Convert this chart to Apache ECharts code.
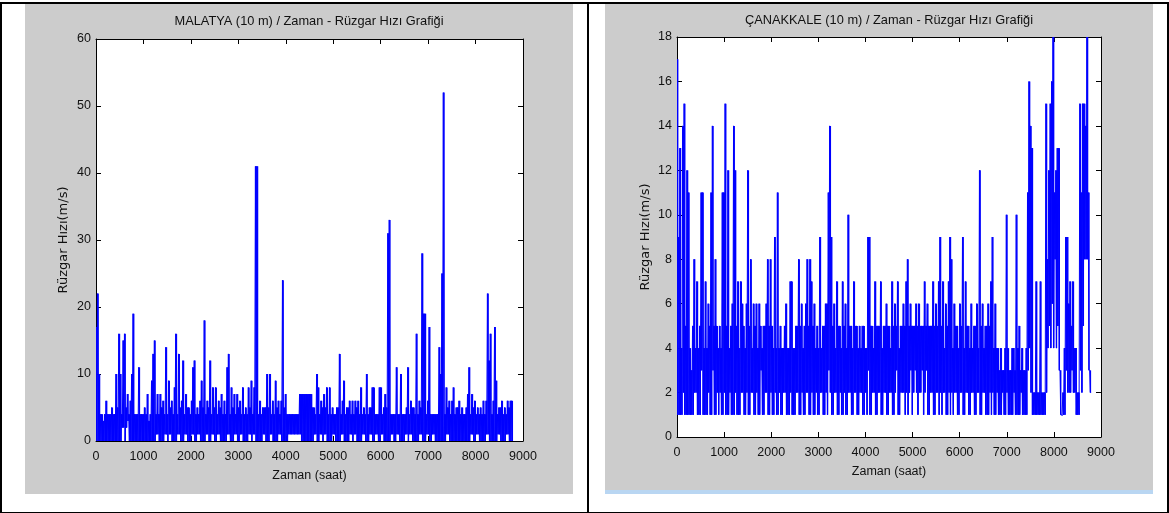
<!DOCTYPE html>
<html>
<head>
<meta charset="utf-8">
<script src="https://cdn.jsdelivr.net/npm/echarts@6/dist/echarts.min.js"></script>
<style>
  html, body { margin: 0; padding: 0; background: #fff; }
  #page { position: relative; width: 1169px; height: 513px; overflow: hidden; background: #fff; }
  .bx { position: absolute; }
  #chart { position: absolute; left: 0; top: 0; width: 1169px; height: 513px; }
</style>
</head>
<body>
<div id="page">
  <div class="bx" style="left:25px;top:4px;width:548px;height:490px;background:#cccccc;"></div>
  <div class="bx" style="left:605px;top:4px;width:548px;height:486px;background:#cccccc;"></div>
  <div class="bx" style="left:605px;top:490px;width:548px;height:4px;background:#b9d6f2;"></div>
  <div class="bx" style="left:0px;top:2px;width:1165px;height:508px;border:2px solid #000;"></div>
  <div class="bx" style="left:587px;top:2px;width:2px;height:510px;background:#000;"></div>
  <div id="chart"></div>
</div>
<script>
// Wind speed, in windows of WINDOW_HOURS hours:
// for every window the highest and the lowest reading (the trace swings between them).
const WINDOW_HOURS = 30;
const xTickValues = [0, 1000, 2000, 3000, 4000, 5000, 6000, 7000, 8000, 9000];

const malatyaTitle = 'MALATYA (10 m) / Zaman - Rüzgar Hızı Grafiği';
const canakkaleTitle = 'ÇANAKKALE (10 m) / Zaman - Rüzgar Hızı Grafiği';
const xAxisTitle = 'Zaman (saat)';
const yAxisTitle = 'Rüzgar Hızı(m/s)';

const malatyaHigh = [
  17, 22, 10, 4, 4, 3, 4, 6, 4, 4,
  4, 5, 4, 4, 10, 5, 16, 10, 4, 15,
  16, 5, 7, 4, 6, 10, 19, 4, 4, 4,
  11, 4, 4, 4, 5, 4, 7, 3, 4, 9,
  13, 15, 4, 7, 4, 7, 5, 6, 4, 14,
  4, 9, 5, 6, 4, 8, 16, 4, 13, 5,
  6, 12, 4, 7, 5, 5, 4, 6, 11, 12,
  4, 5, 4, 6, 9, 5, 18, 4, 6, 5,
  12, 4, 8, 5, 8, 4, 6, 5, 7, 4,
  6, 4, 11, 13, 4, 8, 5, 7, 4, 7,
  5, 6, 4, 8, 4, 5, 4, 8, 5, 9,
  4, 8, 41, 41, 4, 6, 4, 5, 5, 5,
  10, 5, 10, 4, 6, 4, 9, 5, 6, 4,
  6, 24, 5, 7, 4, 4, 4, 4, 4, 4,
  4, 4, 4, 7, 7, 7, 7, 7, 7, 7,
  7, 7, 5, 5, 4, 10, 8, 4, 6, 5,
  7, 5, 8, 4, 8, 4, 5, 4, 4, 5,
  5, 13, 4, 6, 9, 4, 5, 5, 6, 4,
  6, 4, 6, 5, 6, 4, 8, 4, 5, 4,
  10, 4, 5, 5, 8, 8, 4, 4, 4, 8,
  8, 4, 5, 7, 5, 31, 33, 4, 4, 4,
  4, 11, 4, 4, 10, 4, 4, 4, 5, 11,
  4, 6, 5, 5, 4, 16, 4, 6, 5, 28,
  19, 19, 4, 6, 17, 4, 4, 4, 4, 4,
  4, 14, 10, 25, 52, 4, 8, 5, 6, 4,
  6, 8, 4, 5, 5, 6, 4, 5, 4, 4,
  5, 7, 11, 4, 7, 5, 6, 4, 5, 4,
  5, 4, 6, 4, 6, 22, 12, 16, 4, 6,
  17, 9, 4, 5, 5, 6, 4, 5, 4, 6,
  5, 6, 6
];

const malatyaLow = [
  0, 0, 0, 0, 0, 0, 0, 0, 0, 0,
  0, 0, 0, 0, 0, 0, 0, 0, 2, 2,
  0, 2, 3, 0, 0, 0, 0, 0, 0, 0,
  0, 0, 0, 0, 0, 0, 0, 0, 0, 0,
  0, 0, 1, 1, 0, 0, 0, 0, 1, 1,
  0, 1, 1, 0, 0, 0, 0, 1, 1, 0,
  0, 0, 1, 1, 0, 0, 0, 1, 1, 0,
  0, 1, 1, 0, 0, 0, 0, 1, 1, 0,
  0, 1, 1, 0, 0, 1, 1, 0, 0, 0,
  0, 0, 1, 1, 0, 0, 0, 1, 1, 0,
  0, 1, 1, 0, 0, 0, 0, 1, 1, 0,
  1, 1, 0, 0, 0, 0, 0, 1, 1, 0,
  0, 0, 1, 1, 0, 0, 0, 0, 1, 1,
  0, 0, 0, 0, 0, 1, 1, 1, 1, 1,
  1, 1, 1, 1, 0, 0, 0, 0, 0, 0,
  0, 0, 0, 1, 1, 0, 0, 1, 1, 0,
  1, 1, 0, 0, 0, 0, 1, 1, 0, 0,
  0, 0, 1, 1, 0, 0, 0, 0, 1, 1,
  0, 1, 1, 0, 0, 0, 0, 1, 1, 0,
  0, 0, 1, 1, 0, 0, 1, 1, 0, 0,
  1, 1, 0, 0, 0, 0, 0, 1, 1, 0,
  0, 1, 1, 0, 0, 0, 0, 1, 1, 0,
  1, 1, 0, 0, 0, 0, 0, 1, 1, 0,
  0, 0, 1, 1, 0, 0, 1, 1, 0, 0,
  0, 0, 0, 0, 0, 0, 1, 1, 0, 0,
  0, 0, 0, 0, 0, 0, 0, 0, 0, 0,
  0, 0, 0, 1, 1, 0, 0, 1, 1, 0,
  0, 0, 0, 0, 1, 1, 0, 0, 0, 0,
  0, 0, 1, 1, 0, 0, 0, 0, 1, 1,
  0, 0, 0
];

const canakkaleHigh = [
  17, 9, 13, 4, 14, 15, 5, 12, 11, 4,
  3, 5, 8, 4, 7, 4, 5, 11, 11, 4,
  7, 4, 6, 5, 11, 14, 5, 8, 5, 4,
  5, 4, 11, 11, 15, 5, 12, 4, 5, 6,
  14, 12, 5, 7, 4, 7, 6, 5, 4, 6,
  12, 5, 8, 4, 6, 5, 6, 4, 6, 5,
  4, 5, 5, 6, 8, 5, 8, 5, 4, 9,
  4, 11, 4, 5, 4, 4, 5, 6, 4, 4,
  7, 7, 4, 4, 5, 5, 8, 5, 6, 4,
  5, 6, 8, 5, 8, 7, 5, 6, 4, 5,
  4, 9, 4, 5, 5, 6, 6, 11, 14, 9,
  5, 6, 4, 7, 5, 5, 4, 7, 5, 6,
  4, 10, 5, 5, 4, 7, 5, 5, 4, 5,
  4, 5, 5, 4, 4, 9, 9, 5, 5, 4,
  7, 5, 5, 5, 7, 4, 5, 5, 6, 5,
  5, 4, 7, 5, 6, 5, 7, 4, 5, 5,
  6, 5, 7, 8, 5, 6, 5, 5, 5, 6,
  5, 6, 5, 5, 5, 7, 5, 6, 5, 5,
  5, 7, 5, 6, 5, 7, 9, 5, 7, 4,
  6, 5, 7, 9, 8, 4, 6, 5, 5, 4,
  6, 5, 9, 4, 7, 5, 5, 4, 6, 4,
  5, 5, 6, 4, 12, 5, 6, 4, 5, 5,
  6, 5, 7, 9, 4, 6, 4, 4, 3, 4,
  3, 3, 4, 10, 4, 3, 3, 4, 4, 3,
  10, 4, 5, 3, 4, 3, 3, 4, 11, 16,
  14, 13, 2, 2, 7, 2, 2, 7, 2, 2,
  2, 15, 8, 12, 15, 16, 18, 11, 12, 13,
  13, 3, 1, 2, 4, 9, 9, 6, 7, 5,
  7, 4, 4, 2, 2, 15, 11, 15, 15, 14,
  18, 11, 3
];

const canakkaleLow = [
  1, 1, 1, 1, 2, 1, 1, 1, 1, 1,
  1, 1, 2, 2, 1, 1, 1, 3, 1, 1,
  1, 1, 2, 1, 1, 3, 1, 1, 2, 1,
  2, 1, 1, 2, 1, 1, 1, 2, 1, 1,
  1, 2, 1, 1, 1, 2, 2, 1, 1, 2,
  1, 1, 2, 2, 1, 1, 2, 1, 1, 3,
  1, 1, 2, 2, 1, 1, 2, 1, 1, 2,
  1, 1, 2, 1, 1, 2, 2, 1, 1, 1,
  2, 1, 1, 1, 2, 2, 1, 1, 2, 1,
  1, 2, 2, 1, 1, 2, 1, 1, 2, 1,
  1, 2, 2, 1, 1, 2, 1, 3, 2, 1,
  1, 2, 2, 1, 1, 2, 1, 1, 2, 1,
  1, 2, 2, 1, 1, 2, 2, 1, 1, 2,
  2, 1, 1, 2, 1, 3, 1, 1, 2, 2,
  1, 1, 2, 2, 1, 1, 2, 2, 1, 1,
  2, 2, 1, 1, 2, 3, 1, 1, 2, 2,
  2, 1, 2, 1, 2, 3, 1, 2, 3, 2,
  1, 2, 2, 3, 1, 2, 3, 1, 1, 2,
  2, 1, 1, 2, 2, 1, 2, 1, 2, 2,
  1, 1, 2, 1, 2, 1, 2, 2, 1, 1,
  2, 2, 1, 1, 2, 2, 1, 1, 2, 2,
  1, 1, 2, 2, 1, 1, 2, 2, 1, 1,
  1, 2, 1, 2, 1, 1, 2, 1, 1, 1,
  2, 1, 1, 2, 1, 1, 1, 1, 2, 1,
  1, 1, 1, 2, 1, 1, 1, 1, 3, 4,
  2, 1, 1, 1, 1, 1, 1, 1, 1, 1,
  1, 2, 4, 5, 4, 6, 4, 8, 4, 5,
  3, 1, 1, 1, 1, 3, 2, 2, 2, 3,
  2, 2, 1, 1, 1, 3, 2, 5, 8, 8,
  8, 3, 2
];

const FONT = '"Liberation Sans", Arial, Helvetica, sans-serif';
const NAME_FONT = '"DejaVu Sans", "Liberation Sans", Arial, sans-serif';
const TXT = '#111';
const LINE_BLUE = '#0000ff';

// each item: [window start hour, window high, window low, next window's high]
function toWindows(high, low) {
  return high.map((h, j) => [
    j * WINDOW_HOURS, h, low[j], j + 1 < high.length ? high[j + 1] : low[j]
  ]);
}
// within a window the hourly trace sweeps the whole range low..high, drawn as a
// solid column, and a stroke joins it to the next window
function renderTrace(params, api) {
  const x0 = api.value(0);
  const top = api.coord([x0, api.value(1)]);
  const bottom = api.coord([x0 + WINDOW_HOURS, api.value(2)]);
  const mid = api.coord([x0 + WINDOW_HOURS / 2, api.value(2)]);
  const next = api.coord([x0 + WINDOW_HOURS, api.value(3)]);
  return {
    type: 'group',
    children: [
      {
        type: 'rect',
        shape: { x: top[0], y: top[1], width: bottom[0] - top[0], height: Math.max(bottom[1] - top[1], 1) },
        style: { fill: LINE_BLUE }
      },
      {
        type: 'polyline',
        shape: { points: [top, mid, next] },
        style: { stroke: LINE_BLUE, lineWidth: 1, fill: null }
      }
    ]
  };
}
const plainNum = (v) => String(v);

const chart = echarts.init(document.getElementById('chart'), null, { renderer: 'canvas' });

function xAxes(gi) {
  return [
    {
      gridIndex: gi, type: 'value', position: 'bottom',
      min: xTickValues[0], max: xTickValues[xTickValues.length - 1], interval: 1000,
      name: xAxisTitle, nameLocation: 'middle', nameGap: 28,
      nameTextStyle: { fontFamily: FONT, fontSize: 12.5, color: TXT },
      axisLine: { show: true, onZero: false, lineStyle: { color: '#000', width: 1 } },
      axisTick: { show: true, inside: true, length: 5, lineStyle: { color: '#000' } },
      axisLabel: { fontFamily: FONT, fontSize: 12.5, color: TXT, margin: 9, formatter: plainNum },
      splitLine: { show: false }
    },
    {
      gridIndex: gi, type: 'value', position: 'top',
      min: xTickValues[0], max: xTickValues[xTickValues.length - 1], interval: 1000,
      axisLine: { show: true, onZero: false, lineStyle: { color: '#000', width: 1 } },
      axisTick: { show: true, inside: true, length: 5, lineStyle: { color: '#000' } },
      axisLabel: { show: false },
      splitLine: { show: false }
    }
  ];
}

function yAxes(gi, max, interval, gap) {
  return [
    {
      gridIndex: gi, type: 'value', position: 'left', min: 0, max: max, interval: interval,
      name: yAxisTitle, nameLocation: 'middle', nameGap: gap, nameRotate: 90,
      nameTextStyle: { fontFamily: NAME_FONT, fontSize: 13, color: TXT },
      axisLine: { show: true, onZero: false, lineStyle: { color: '#000', width: 1 } },
      axisTick: { show: true, inside: true, length: 5, lineStyle: { color: '#000' } },
      axisLabel: { fontFamily: FONT, fontSize: 12.5, color: TXT, margin: 5, formatter: plainNum },
      splitLine: { show: false }
    },
    {
      gridIndex: gi, type: 'value', position: 'right', min: 0, max: max, interval: interval,
      axisLine: { show: true, onZero: false, lineStyle: { color: '#000', width: 1 } },
      axisTick: { show: true, inside: true, length: 5, lineStyle: { color: '#000' } },
      axisLabel: { show: false },
      splitLine: { show: false }
    }
  ];
}

const option = {
  animation: false,
  backgroundColor: 'transparent',
  graphic: [
    { type: 'text', x: 309, y: 21, style: { text: malatyaTitle, textAlign: 'center', textVerticalAlign: 'middle', font: '12.8px ' + FONT, fill: TXT } },
    { type: 'text', x: 889, y: 20, style: { text: canakkaleTitle, textAlign: 'center', textVerticalAlign: 'middle', font: '12.8px ' + FONT, fill: TXT } }
  ],
  grid: [
    { left: 96, top: 39, width: 427, height: 402, show: true, backgroundColor: '#fff', borderWidth: 0 },
    { left: 677, top: 37, width: 424, height: 400, show: true, backgroundColor: '#fff', borderWidth: 0 }
  ],
  xAxis: [...xAxes(0), ...xAxes(1)],
  yAxis: [...yAxes(0, 60, 10, 26), ...yAxes(1, 18, 2, 25)],
  series: [
    {
      type: 'custom', xAxisIndex: 0, yAxisIndex: 0, data: toWindows(malatyaHigh, malatyaLow),
      encode: { x: 0, y: [1, 2, 3] }, renderItem: renderTrace, clip: true, z: 3
    },
    {
      type: 'custom', xAxisIndex: 2, yAxisIndex: 2, data: toWindows(canakkaleHigh, canakkaleLow),
      encode: { x: 0, y: [1, 2, 3] }, renderItem: renderTrace, clip: true, z: 3
    }
  ]
};
chart.setOption(option);
</script>
</body>
</html>
